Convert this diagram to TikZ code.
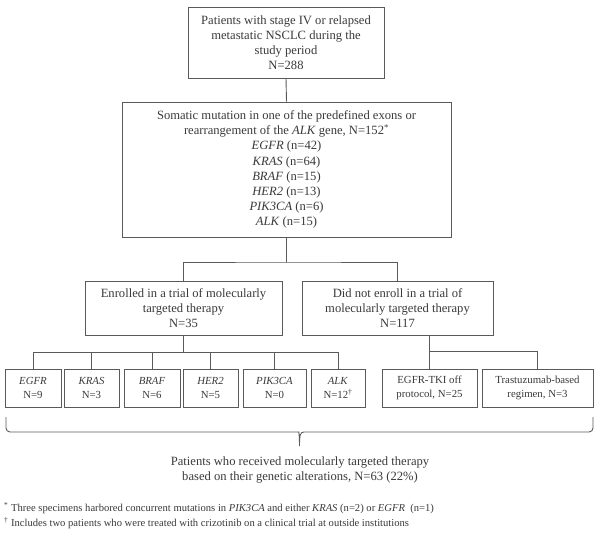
\documentclass[tikz,border=0pt]{standalone}
\usepackage{fontspec}
\setmainfont{Liberation Serif}
\definecolor{ln}{HTML}{5A5A5A}
\definecolor{tx}{HTML}{3A3A3A}
\begin{document}
\begin{tikzpicture}[x=1pt,y=-1pt,
  box/.style={draw=ln,line width=0.9pt,rectangle,align=center,inner sep=0pt,text=tx,
    font=\fontsize{12.6}{15.2}\selectfont},
  kid/.style={box,minimum height=38pt,font=\fontsize{10.8}{14}\selectfont},
  conn/.style={draw=ln,line width=0.9pt},
  plain/.style={align=center,inner sep=0pt,text=tx,font=\fontsize{12.6}{15}\selectfont},
  foot/.style={anchor=west,inner sep=0pt,text=tx,font=\fontsize{10.6}{15}\selectfont}]
\useasboundingbox (0,0) rectangle (601,539);
\fill[white] (0,0) rectangle (601,539);

\node[box,minimum width=196pt,minimum height=71pt] (b1) at (286,42.5)
  {Patients with stage IV or relapsed\\metastatic NSCLC during the\\study period\\N=288};
\node[box,minimum width=329pt,minimum height=135pt] (b2) at (286.5,169.5)
  {Somatic mutation in one of the predefined exons or\\rearrangement of the \textit{ALK} gene, N=152\textsuperscript{*}\\
   \textit{EGFR} (n=42)\\\textit{KRAS} (n=64)\\\textit{BRAF} (n=15)\\\textit{HER2} (n=13)\\\textit{PIK3CA} (n=6)\\\textit{ALK} (n=15)};
\node[box,minimum width=197pt,minimum height=54pt] (b3) at (183.5,308)
  {Enrolled in a trial of molecularly\\targeted therapy\\N=35};
\node[box,minimum width=191pt,minimum height=54pt] (b4) at (397.5,308)
  {Did not enroll in a trial of\\molecularly targeted therapy\\N=117};

\node[kid,minimum width=56pt] (c1) at (33,388) {\textit{EGFR}\\N=9};
\node[kid,minimum width=55pt] (c2) at (91.5,388) {\textit{KRAS}\\N=3};
\node[kid,minimum width=56pt] (c3) at (152,388) {\textit{BRAF}\\N=6};
\node[kid,minimum width=55pt] (c4) at (210.5,388) {\textit{HER2}\\N=5};
\node[kid,minimum width=63pt] (c5) at (274.5,388) {\textit{PIK3CA}\\N=0};
\node[kid,minimum width=54pt] (c6) at (338,388) {\textit{ALK}\\N=12\textsuperscript{†}};
\node[kid,minimum width=95pt] (d1) at (429.5,388) {EGFR-TKI off\\protocol, N=25};
\node[kid,minimum width=111pt] (d2) at (537.5,388) {Trastuzumab-based\\regimen, N=3};

\coordinate (j1) at (286.5,262);
\coordinate (j2) at (183.5,352);
\coordinate (j3) at (429.5,351);

\draw[conn] (b1.south) -- (b2.north);
\draw[conn] (b2.south) -- (j1);
\draw[conn] (b3.north) |- (j1) -| (b4.north);
\draw[conn] (b3.south) -- (j2);
\draw[conn] (c1.north) |- (j2) -| (c6.north);
\foreach \c in {c2,c3,c4,c5} \draw[conn] (\c.north) -- (\c.north |- j2);
\draw[conn] (d1.north) -- (d1.north |- b4.south);
\draw[conn] (j3) -| (d2.north);

% brace
\draw[conn,rounded corners=4] (6,417) -- (6,432) -- (295,432)
  [sharp corners] .. controls (298.5,432) and (299.5,434) .. (299.5,446)
  .. controls (299.5,434) and (300.5,432) .. (304,432)
  [rounded corners=4] -- (593,432) -- (593,417);

\node[plain] (t) at (300,469.5)
  {Patients who received molecularly targeted therapy\\based on their genetic alterations, N=63 (22\%)};

\node[foot] (f1) at (4,508) {\textsuperscript{*} Three specimens harbored concurrent mutations in \textit{PIK3CA} and either \textit{KRAS} (n=2) or \textit{EGFR}\ \ (n=1)};
\node[foot] (f2) at (4,523) {\textsuperscript{†} Includes two patients who were treated with crizotinib on a clinical trial at outside institutions};
\end{tikzpicture}
\end{document}
